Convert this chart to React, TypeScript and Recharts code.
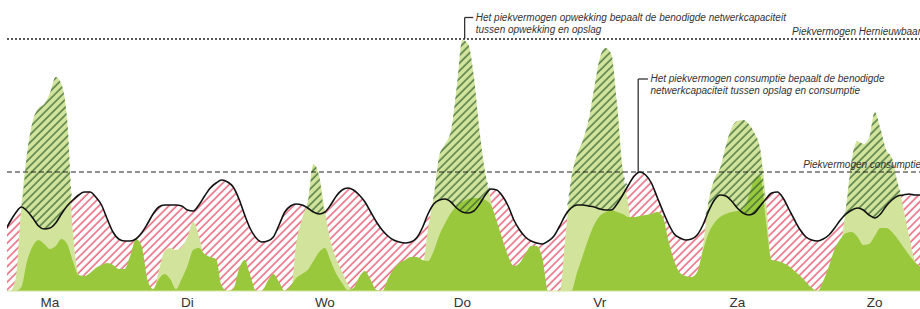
import React from "react";
import { ComposedChart, Area, Line, XAxis, YAxis, ReferenceLine } from "recharts";

// hours of the week (Monday 00:00 = 0); one sample per hour starting at startUur
const startUur = 4;
const dagen = ["Ma", "Di", "Wo", "Do", "Vr", "Za", "Zo"];
const dagMidden = [12, 36, 60, 84, 108, 132, 156];

// consumption (black line)
const verbruik = [
  58, 69, 78, 84, 80, 73, 65, 62, 63, 68,
  77, 85, 91, 96, 99, 99, 94, 86, 72, 59,
  52, 50, 50, 52, 58, 67, 77, 84, 86, 86,
  86, 85, 81, 80, 86, 95, 103, 108, 111, 109,
  104, 92, 76, 62, 53, 49, 50, 54, 66, 79,
  85, 87, 86, 83, 79, 77, 79, 86, 95, 101,
  103, 101, 96, 89, 79, 69, 61, 55, 51, 49,
  48, 49, 53, 63, 77, 87, 91, 92, 89, 83,
  79, 78, 80, 87, 96, 102, 101, 95, 85, 71,
  61, 54, 50, 48, 47, 50, 55, 65, 76, 83,
  86, 86, 85, 84, 82, 81, 81, 87, 96, 106,
  115, 119, 116, 108, 94, 80, 67, 57, 53, 51,
  52, 56, 66, 80, 91, 96, 95, 90, 83, 78,
  76, 78, 85, 92, 98, 99, 93, 82, 71, 61,
  54, 51, 50, 52, 56, 63, 71, 77, 81, 83,
  81, 76, 73, 77, 85, 91, 95, 96, 97, 96,
  96,
];

// renewable generation (light green)
const opwekking = [
  0, 0, 12, 85, 138, 170, 183, 187, 198, 214,
  207, 172, 60, 14, 0, 0, 0, 0, 0, 0,
  0, 0, 0, 0, 0, 0, 0, 20, 40, 43,
  41, 44, 54, 69, 55, 30, 0, 0, 0, 0,
  0, 0, 0, 0, 0, 0, 0, 0, 0, 0,
  0, 48, 72, 90, 127, 115, 80, 50, 32, 19,
  7, 0, 0, 0, 0, 0, 0, 0, 0, 0,
  0, 0, 0, 20, 62, 95, 136, 147, 160, 203,
  251, 247, 215, 160, 118, 90, 55, 30, 0, 0,
  0, 0, 0, 0, 0, 0, 0, 0, 55, 112,
  136, 150, 170, 202, 233, 243, 237, 188, 122, 85,
  40, 0, 0, 0, 0, 0, 0, 0, 0, 0,
  0, 15, 45, 90, 112, 123, 145, 163, 170, 171,
  167, 158, 142, 92, 20, 0, 0, 0, 0, 0,
  0, 0, 0, 0, 0, 0, 40, 85, 132, 150,
  147, 153, 179, 162, 141, 133, 108, 83, 55, 30,
  22,
];

// directly delivered / storage (dark green)
const direct = [
  0, 0, 0, 4, 30, 45, 51, 47, 42, 45,
  52, 47, 30, 16, 15, 18, 23, 26, 28, 26,
  22, 22, 35, 52, 45, 12, 2, 12, 17, 12,
  2, 12, 25, 41, 43, 37, 34, 32, 5, 0,
  2, 22, 31, 15, 0, 0, 10, 17, 9, 0,
  5, 13, 17, 21, 30, 39, 43, 30, 17, 8,
  1, 3, 14, 20, 11, 1, 0, 12, 22, 28,
  31, 34, 34, 31, 30, 40, 56, 68, 78, 85,
  89, 92, 93, 93, 91, 86, 70, 52, 35, 25,
  28, 37, 45, 45, 32, 0, 0, 0, 0, 0,
  18, 35, 52, 66, 75, 79, 81, 79, 77, 74,
  74, 75, 76, 77, 79, 74, 50, 30, 18, 15,
  14, 19, 40, 58, 68, 74, 77, 79, 80, 82,
  95, 112, 115, 70, 31, 30, 28, 25, 20, 15,
  9, 3, 0, 10, 25, 42, 52, 58, 59, 54,
  46, 47, 55, 63, 63, 59, 52, 44, 36, 29,
  24,
];

const piekOpwekking = 252;
const piekConsumptie = 119;
const annotatieOpwekking = { uur: 84.4, hoogte: 273.5, eind: 85.9 };
const annotatieConsumptie = { uur: 114.7, hoogte: 212, eind: 116.4 };

const data = verbruik.map((v, i) => ({
  uur: startUur + i,
  verbruik: v,
  opwekking: opwekking[i],
  direct: direct[i],
  overschot: [v, Math.max(v, opwekking[i])],
}));

const FONT = "'Liberation Sans', Arial, Helvetica, sans-serif";

const DagTick = (props: any) => {
  const idx = dagMidden.indexOf(props.payload.value);
  return (
    <text x={props.x} y={props.y + 15.5} textAnchor="middle" fontSize={13.5} fill="#333" fontFamily={FONT}>
      {dagen[idx]}
    </text>
  );
};

const lijnLabel = (tekst: string) => (props: any) => {
  const vb = props.viewBox || {};
  const x = (vb.x || 0) + (vb.width || 0) + 1;
  const y = (vb.y || 0) - 4;
  return (
    <text x={x} y={y} textAnchor="end" fontSize={10} fontStyle="italic" fill="#333" fontFamily={FONT}>
      {tekst}
    </text>
  );
};

const annotatieLabel = (regel1: string, regel2: string) => (props: any) => {
  const vb = props.viewBox || {};
  const x = (vb.x || 0) + (vb.width || 0) + 2.5;
  const y = (vb.y || 0) + 3;
  return (
    <text fontSize={10} fontStyle="italic" fill="#333" fontFamily={FONT}>
      <tspan x={x} y={y}>{regel1}</tspan>
      <tspan x={x} y={y + 12}>{regel2}</tspan>
    </text>
  );
};

export default function App() {
  return (
    <div style={{ position: "absolute", left: 0, top: 0, width: 920, height: 309, background: "#fff" }}>
      <ComposedChart width={920} height={309} data={data} margin={{ top: 38, right: 0, left: 7, bottom: 0 }}>
        <defs>
          <pattern id="roodArcering" patternUnits="userSpaceOnUse" width={5.5} height={5.5} patternTransform="rotate(45)">
            <line x1={1} y1={0} x2={1} y2={5.5} stroke="#e42a48" strokeWidth={1.1} />
          </pattern>
          <pattern id="groenArcering" patternUnits="userSpaceOnUse" width={5.5} height={5.5} patternTransform="rotate(45)">
            <line x1={1} y1={0} x2={1} y2={5.5} stroke="#2f5f30" strokeWidth={1.2} />
          </pattern>
        </defs>
        <XAxis
          type="number"
          dataKey="uur"
          domain={[4.5, 163.9]}
          allowDataOverflow
          ticks={dagMidden}
          tick={<DagTick />}
          tickLine={false}
          tickSize={0}
          tickMargin={0}
          axisLine={{ stroke: "#d3e59f" }}
          height={18}
          interval={0}
        />
        <YAxis hide domain={[0, 253]} width={0} allowDataOverflow />
        <Area type="monotone" dataKey="verbruik" stroke="none" fill="url(#roodArcering)" fillOpacity={1} isAnimationActive={false} />
        <Area type="monotone" dataKey="opwekking" stroke="none" fill="#d2e49c" fillOpacity={1} isAnimationActive={false} />
        <Area type="monotone" dataKey="direct" stroke="none" fill="#99c83c" fillOpacity={1} isAnimationActive={false} />
        <Area type="monotone" dataKey="overschot" stroke="none" fill="url(#groenArcering)" fillOpacity={1} isAnimationActive={false} />
        <Line type="monotone" dataKey="verbruik" stroke="#111" strokeWidth={1.6} dot={false} activeDot={false} isAnimationActive={false} />
        <ReferenceLine
          y={piekOpwekking}
          stroke="#222"
          strokeWidth={1.3}
          strokeDasharray="2 2"
          label={lijnLabel("Piekvermogen Hernieuwbaar")}
        />
        <ReferenceLine
          y={piekConsumptie}
          stroke="#222"
          strokeWidth={1}
          strokeDasharray="5 3"
          label={lijnLabel("Piekvermogen consumptie")}
        />
        <ReferenceLine
          segment={[{ x: annotatieOpwekking.uur, y: piekOpwekking }, { x: annotatieOpwekking.uur, y: annotatieOpwekking.hoogte }]}
          stroke="#333"
          strokeWidth={1.3}
          ifOverflow="visible"
        />
        <ReferenceLine
          segment={[{ x: annotatieOpwekking.uur, y: annotatieOpwekking.hoogte }, { x: annotatieOpwekking.eind, y: annotatieOpwekking.hoogte }]}
          stroke="#333"
          strokeWidth={1.3}
          ifOverflow="visible"
          label={annotatieLabel(
            "Het piekvermogen opwekking bepaalt de benodigde netwerkcapaciteit",
            "tussen opwekking en opslag"
          )}
        />
        <ReferenceLine
          segment={[{ x: annotatieConsumptie.uur, y: piekConsumptie }, { x: annotatieConsumptie.uur, y: annotatieConsumptie.hoogte }]}
          stroke="#333"
          strokeWidth={1.3}
          ifOverflow="visible"
        />
        <ReferenceLine
          segment={[{ x: annotatieConsumptie.uur, y: annotatieConsumptie.hoogte }, { x: annotatieConsumptie.eind, y: annotatieConsumptie.hoogte }]}
          stroke="#333"
          strokeWidth={1.3}
          ifOverflow="visible"
          label={annotatieLabel(
            "Het piekvermogen consumptie bepaalt de benodigde",
            "netwerkcapaciteit tussen opslag en consumptie"
          )}
        />
      </ComposedChart>
    </div>
  );
}
